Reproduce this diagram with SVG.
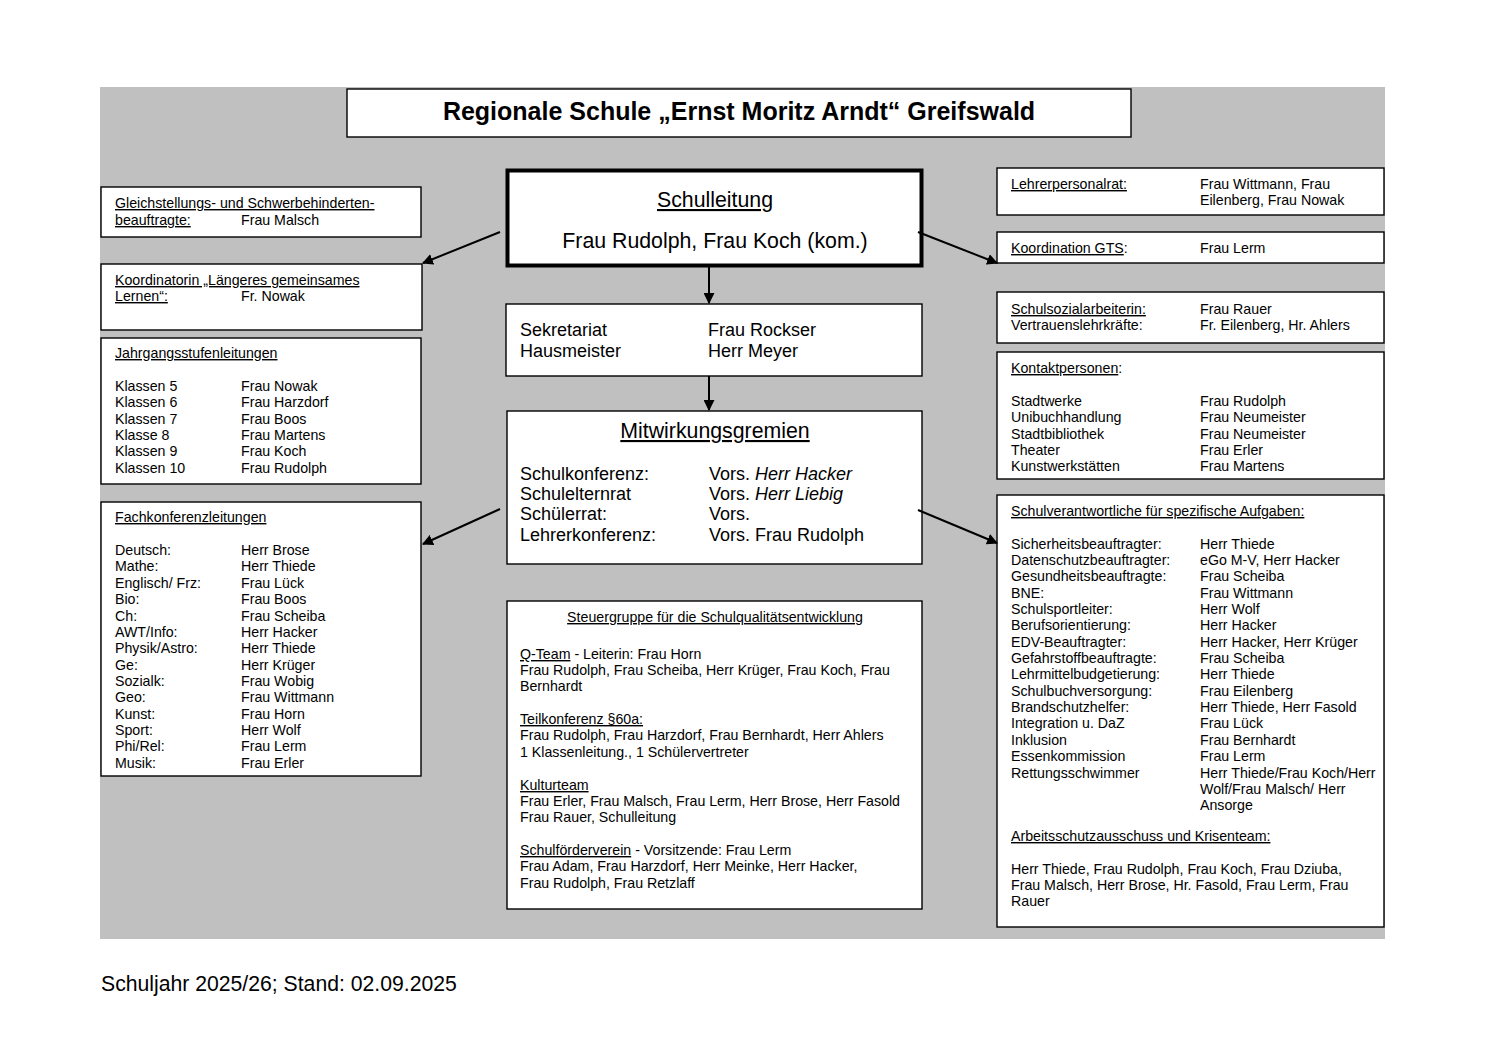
<svg xmlns="http://www.w3.org/2000/svg" width="1497" height="1058" viewBox="0 0 1497 1058">
<style>
text{font-family:"Liberation Sans",Arial,sans-serif;fill:#000}
.s{font-size:14.2px}
.m{font-size:18px}
.l{font-size:21.3px}
.u{text-decoration:underline}
.i{font-style:italic}
.box{fill:#fff;stroke:#000;stroke-width:1.4}
.c{stroke:#000;stroke-width:2;fill:none}
</style>
<defs>
<marker id="ah" viewBox="0 0 10 10" refX="9" refY="5" markerWidth="5.5" markerHeight="5.5" orient="auto" markerUnits="strokeWidth">
<path d="M0,0 L10,5 L0,10 z" fill="#000"/>
</marker>
</defs>
<rect width="1497" height="1058" fill="#fff"/>
<rect x="100" y="87" width="1285" height="852" fill="#c0c0c0"/>

<g id="title">
<rect class="box" x="347" y="89" width="784" height="48"/>
<text x="739" y="120" font-size="25" font-weight="bold" text-anchor="middle">Regionale Schule „Ernst Moritz Arndt“ Greifswald</text>
</g>

<g id="gleichstellung">
<rect class="box" x="101" y="187" width="320" height="50"/>
<text class="s" x="115" y="208"><tspan class="u">Gleichstellungs- und Schwerbehinderten-</tspan></text>
<text class="s" x="115" y="225"><tspan class="u">beauftragte:</tspan></text>
<text class="s" x="241" y="225">Frau Malsch</text>
</g>

<g id="koordinatorin">
<rect class="box" x="101" y="264" width="321" height="66"/>
<text class="s" x="115" y="285"><tspan class="u">Koordinatorin „Längeres gemeinsames</tspan></text>
<text class="s" x="115" y="301"><tspan class="u">Lernen“:</tspan></text>
<text class="s" x="241" y="301">Fr. Nowak</text>
</g>

<g id="jahrgang">
<rect class="box" x="101" y="338" width="320" height="146"/>
<text class="s" x="115" y="358"><tspan class="u">Jahrgangsstufenleitungen</tspan></text>
<text class="s" x="115" y="391">Klassen 5</text><text class="s" x="241" y="391">Frau Nowak</text>
<text class="s" x="115" y="407">Klassen 6</text><text class="s" x="241" y="407">Frau Harzdorf</text>
<text class="s" x="115" y="424">Klassen 7</text><text class="s" x="241" y="424">Frau Boos</text>
<text class="s" x="115" y="440">Klasse 8</text><text class="s" x="241" y="440">Frau Martens</text>
<text class="s" x="115" y="456">Klassen 9</text><text class="s" x="241" y="456">Frau Koch</text>
<text class="s" x="115" y="473">Klassen 10</text><text class="s" x="241" y="473">Frau Rudolph</text>
</g>

<g id="fachkonferenz">
<rect class="box" x="101" y="502" width="320" height="274"/>
<text class="s" x="115" y="522"><tspan class="u">Fachkonferenzleitungen</tspan></text>
<text class="s" x="115" y="555">Deutsch:</text><text class="s" x="241" y="555">Herr Brose</text>
<text class="s" x="115" y="571">Mathe:</text><text class="s" x="241" y="571">Herr Thiede</text>
<text class="s" x="115" y="588">Englisch/ Frz:</text><text class="s" x="241" y="588">Frau Lück</text>
<text class="s" x="115" y="604">Bio:</text><text class="s" x="241" y="604">Frau Boos</text>
<text class="s" x="115" y="621">Ch:</text><text class="s" x="241" y="621">Frau Scheiba</text>
<text class="s" x="115" y="637">AWT/Info:</text><text class="s" x="241" y="637">Herr Hacker</text>
<text class="s" x="115" y="653">Physik/Astro:</text><text class="s" x="241" y="653">Herr Thiede</text>
<text class="s" x="115" y="670">Ge:</text><text class="s" x="241" y="670">Herr Krüger</text>
<text class="s" x="115" y="686">Sozialk:</text><text class="s" x="241" y="686">Frau Wobig</text>
<text class="s" x="115" y="702">Geo:</text><text class="s" x="241" y="702">Frau Wittmann</text>
<text class="s" x="115" y="719">Kunst:</text><text class="s" x="241" y="719">Frau Horn</text>
<text class="s" x="115" y="735">Sport:</text><text class="s" x="241" y="735">Herr Wolf</text>
<text class="s" x="115" y="751">Phi/Rel:</text><text class="s" x="241" y="751">Frau Lerm</text>
<text class="s" x="115" y="768">Musik:</text><text class="s" x="241" y="768">Frau Erler</text>
</g>

<g id="schulleitung">
<rect x="507.5" y="170.5" width="414" height="95" fill="#fff" stroke="#000" stroke-width="4"/>
<text class="l" x="715" y="207" text-anchor="middle"><tspan class="u">Schulleitung</tspan></text>
<text class="l" x="715" y="248" text-anchor="middle">Frau Rudolph, Frau Koch (kom.)</text>
</g>

<g id="sekretariat">
<rect class="box" x="506" y="304" width="416" height="72"/>
<text class="m" x="520" y="336">Sekretariat</text><text class="m" x="708" y="336">Frau Rockser</text>
<text class="m" x="520" y="357">Hausmeister</text><text class="m" x="708" y="357">Herr Meyer</text>
</g>

<g id="mitwirkung">
<rect class="box" x="507" y="411" width="415" height="153"/>
<text class="l" x="715" y="438" text-anchor="middle"><tspan class="u">Mitwirkungsgremien</tspan></text>
<text class="m" x="520" y="480">Schulkonferenz:</text><text class="m" x="709" y="480">Vors. <tspan class="i">Herr Hacker</tspan></text>
<text class="m" x="520" y="500">Schulelternrat</text><text class="m" x="709" y="500">Vors. <tspan class="i">Herr Liebig</tspan></text>
<text class="m" x="520" y="520">Schülerrat:</text><text class="m" x="709" y="520">Vors.</text>
<text class="m" x="520" y="541">Lehrerkonferenz:</text><text class="m" x="709" y="541">Vors. Frau Rudolph</text>
</g>

<g id="steuergruppe">
<rect class="box" x="507" y="601" width="415" height="308"/>
<text class="s" x="715" y="622" text-anchor="middle"><tspan class="u">Steuergruppe für die Schulqualitätsentwicklung</tspan></text>
<text class="s" x="520" y="659"><tspan class="u">Q-Team</tspan> - Leiterin: Frau Horn</text>
<text class="s" x="520" y="675">Frau Rudolph, Frau Scheiba, Herr Krüger, Frau Koch, Frau</text>
<text class="s" x="520" y="691">Bernhardt</text>
<text class="s" x="520" y="724"><tspan class="u">Teilkonferenz §60a:</tspan></text>
<text class="s" x="520" y="740">Frau Rudolph, Frau Harzdorf, Frau Bernhardt, Herr Ahlers</text>
<text class="s" x="520" y="757">1 Klassenleitung., 1 Schülervertreter</text>
<text class="s" x="520" y="790"><tspan class="u">Kulturteam</tspan></text>
<text class="s" x="520" y="806">Frau Erler, Frau Malsch, Frau Lerm, Herr Brose, Herr Fasold</text>
<text class="s" x="520" y="822">Frau Rauer, Schulleitung</text>
<text class="s" x="520" y="855"><tspan class="u">Schulförderverein</tspan> - Vorsitzende: Frau Lerm</text>
<text class="s" x="520" y="871">Frau Adam, Frau Harzdorf, Herr Meinke, Herr Hacker,</text>
<text class="s" x="520" y="888">Frau Rudolph, Frau Retzlaff</text>
</g>

<g id="lehrerpersonalrat">
<rect class="box" x="997" y="168" width="387" height="47"/>
<text class="s" x="1011" y="189"><tspan class="u">Lehrerpersonalrat:</tspan></text>
<text class="s" x="1200" y="189">Frau Wittmann, Frau</text>
<text class="s" x="1200" y="205">Eilenberg, Frau Nowak</text>
</g>

<g id="gts">
<rect class="box" x="997" y="232" width="387" height="31"/>
<text class="s" x="1011" y="253"><tspan class="u">Koordination GTS</tspan>:</text>
<text class="s" x="1200" y="253">Frau Lerm</text>
</g>

<g id="sozial">
<rect class="box" x="997" y="292" width="387" height="51"/>
<text class="s" x="1011" y="314"><tspan class="u">Schulsozialarbeiterin:</tspan></text><text class="s" x="1200" y="314">Frau Rauer</text>
<text class="s" x="1011" y="330">Vertrauenslehrkräfte:</text><text class="s" x="1200" y="330">Fr. Eilenberg, Hr. Ahlers</text>
</g>

<g id="kontakt">
<rect class="box" x="997" y="352" width="387" height="127"/>
<text class="s" x="1011" y="373"><tspan class="u">Kontaktpersonen</tspan>:</text>
<text class="s" x="1011" y="406">Stadtwerke</text><text class="s" x="1200" y="406">Frau Rudolph</text>
<text class="s" x="1011" y="422">Unibuchhandlung</text><text class="s" x="1200" y="422">Frau Neumeister</text>
<text class="s" x="1011" y="439">Stadtbibliothek</text><text class="s" x="1200" y="439">Frau Neumeister</text>
<text class="s" x="1011" y="455">Theater</text><text class="s" x="1200" y="455">Frau Erler</text>
<text class="s" x="1011" y="471">Kunstwerkstätten</text><text class="s" x="1200" y="471">Frau Martens</text>
</g>

<g id="schulverantwortliche">
<rect class="box" x="997" y="495" width="387" height="432"/>
<text class="s" x="1011" y="516"><tspan class="u">Schulverantwortliche für spezifische Aufgaben:</tspan></text>
<text class="s" x="1011" y="549">Sicherheitsbeauftragter:</text><text class="s" x="1200" y="549">Herr Thiede</text>
<text class="s" x="1011" y="565">Datenschutzbeauftragter:</text><text class="s" x="1200" y="565">eGo M-V, Herr Hacker</text>
<text class="s" x="1011" y="581">Gesundheitsbeauftragte:</text><text class="s" x="1200" y="581">Frau Scheiba</text>
<text class="s" x="1011" y="598">BNE:</text><text class="s" x="1200" y="598">Frau Wittmann</text>
<text class="s" x="1011" y="614">Schulsportleiter:</text><text class="s" x="1200" y="614">Herr Wolf</text>
<text class="s" x="1011" y="630">Berufsorientierung:</text><text class="s" x="1200" y="630">Herr Hacker</text>
<text class="s" x="1011" y="647">EDV-Beauftragter:</text><text class="s" x="1200" y="647">Herr Hacker, Herr Krüger</text>
<text class="s" x="1011" y="663">Gefahrstoffbeauftragte:</text><text class="s" x="1200" y="663">Frau Scheiba</text>
<text class="s" x="1011" y="679">Lehrmittelbudgetierung:</text><text class="s" x="1200" y="679">Herr Thiede</text>
<text class="s" x="1011" y="696">Schulbuchversorgung:</text><text class="s" x="1200" y="696">Frau Eilenberg</text>
<text class="s" x="1011" y="712">Brandschutzhelfer:</text><text class="s" x="1200" y="712">Herr Thiede, Herr Fasold</text>
<text class="s" x="1011" y="728">Integration u. DaZ</text><text class="s" x="1200" y="728">Frau Lück</text>
<text class="s" x="1011" y="745">Inklusion</text><text class="s" x="1200" y="745">Frau Bernhardt</text>
<text class="s" x="1011" y="761">Essenkommission</text><text class="s" x="1200" y="761">Frau Lerm</text>
<text class="s" x="1011" y="778">Rettungsschwimmer</text><text class="s" x="1200" y="778">Herr Thiede/Frau Koch/Herr</text>
<text class="s" x="1200" y="794">Wolf/Frau Malsch/ Herr</text>
<text class="s" x="1200" y="810">Ansorge</text>
<text class="s" x="1011" y="841"><tspan class="u">Arbeitsschutzausschuss und Krisenteam:</tspan></text>
<text class="s" x="1011" y="874">Herr Thiede, Frau Rudolph, Frau Koch, Frau Dziuba,</text>
<text class="s" x="1011" y="890">Frau Malsch, Herr Brose, Hr. Fasold, Frau Lerm, Frau</text>
<text class="s" x="1011" y="906">Rauer</text>
</g>

<g id="connectors">
<line class="c" x1="709" y1="266" x2="709" y2="303" marker-end="url(#ah)"/>
<line class="c" x1="709" y1="376" x2="709" y2="410" marker-end="url(#ah)"/>
<line class="c" x1="500" y1="232" x2="423" y2="263" marker-end="url(#ah)"/>
<line class="c" x1="918" y1="232" x2="997" y2="263" marker-end="url(#ah)"/>
<line class="c" x1="500" y1="509" x2="423" y2="544" marker-end="url(#ah)"/>
<line class="c" x1="918" y1="510" x2="997" y2="543" marker-end="url(#ah)"/>
</g>

<text x="101" y="991" font-size="21.2">Schuljahr 2025/26; Stand: 02.09.2025</text>
</svg>
